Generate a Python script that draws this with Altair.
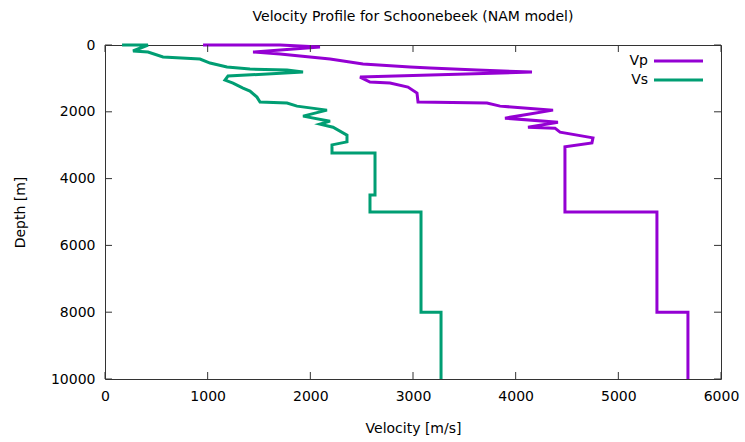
import altair as alt
import pandas as pd

# ---- data ----
series_names = ["Vp", "Vs"]
series_colors = ["#9400D3", "#009E73"]

vp_velocity = [955, 1705, 2094, 1442, 1705, 1899, 2192, 2513, 2971, 3166,
               3623, 4159, 2484, 2581, 2776, 2951, 3039, 3049, 3721, 3848,
               4364, 3896, 4412, 4120, 4383, 4432, 4753, 4743, 4480, 4480,
               5376, 5376, 5678, 5678]
vp_depth = [0, 0, 60, 210, 270, 330, 420, 570, 660, 690,
            750, 810, 960, 1110, 1140, 1260, 1440, 1710, 1740, 1830,
            1950, 2190, 2310, 2460, 2490, 2610, 2780, 2930, 3050, 5000,
            5000, 8000, 8000, 10000]

vs_velocity = [166, 419, 273, 419, 565, 925, 1023, 1188, 1412, 1773,
               1929, 1198, 1169, 1247, 1344, 1412, 1480, 1510, 1773, 1870,
               2162, 1929, 2192, 2094, 2221, 2357, 2357, 2211, 2211, 2630,
               2630, 2581, 2581, 3078, 3078, 3273, 3273]
vs_depth = [0, 0, 180, 210, 360, 420, 540, 660, 720, 750,
            810, 930, 1050, 1140, 1290, 1380, 1560, 1710, 1740, 1830,
            1950, 2130, 2280, 2370, 2460, 2700, 2900, 2990, 3230, 3230,
            4490, 4490, 5000, 5000, 8000, 8000, 10000]

x_tick_values = [0, 1000, 2000, 3000, 4000, 5000, 6000]
y_tick_values = [0, 2000, 4000, 6000, 8000, 10000]

title_text = "Velocity Profile for Schoonebeek (NAM model)"
x_title = "Velocity [m/s]"
y_title = "Depth [m]"

# ---- build tables ----
rows = []
for name, vel, dep in [("Vp", vp_velocity, vp_depth), ("Vs", vs_velocity, vs_depth)]:
    for i, (v, d) in enumerate(zip(vel, dep)):
        rows.append({"series": name, "velocity": v, "depth": d, "idx": i})
df = pd.DataFrame(rows)
xt = pd.DataFrame({"velocity": x_tick_values})
yt = pd.DataFrame({"depth": y_tick_values})

W, H = 616, 334
FONT = "DejaVu Sans"
BORDER = "#333333"
TICK = 7

x_enc = alt.X("velocity:Q",
              scale=alt.Scale(domain=[0, 6000], nice=False, zero=False),
              axis=alt.Axis(values=x_tick_values, title=x_title, format="d",
                            grid=False, ticks=False, domain=False,
                            labelFont=FONT, labelFontSize=14, labelColor="black",
                            labelPadding=10, labelFlush=False, labelOverlap=False,
                            titleFont=FONT, titleFontSize=14, titleFontWeight="normal",
                            titleColor="black",
                            titleX=W / 2, titleY=49, titleBaseline="middle",
                            titleAlign="center"))
y_enc = alt.Y("depth:Q",
              scale=alt.Scale(domain=[0, 10000], reverse=True, nice=False, zero=False),
              axis=alt.Axis(values=y_tick_values, title=y_title, format="d",
                            grid=False, ticks=False, domain=False,
                            labelFont=FONT, labelFontSize=14, labelColor="black",
                            labelPadding=10, labelFlush=False, labelOverlap=False,
                            titleFont=FONT, titleFontSize=14, titleFontWeight="normal",
                            titleColor="black",
                            titleX=-85, titleY=H / 2, titleBaseline="middle",
                            titleAlign="center", titleAngle=-90))

lines = alt.Chart(df).mark_line(strokeWidth=3, strokeJoin="miter", strokeCap="butt").encode(
    x=x_enc,
    y=y_enc,
    color=alt.Color("series:N", scale=alt.Scale(domain=series_names, range=series_colors),
                    legend=None),
    order="idx:Q",
    detail="series:N",
)

tick_bottom = alt.Chart(xt).mark_rule(color=BORDER, strokeWidth=1).encode(
    x=x_enc, y=alt.value(H), y2=alt.value(H - TICK))
tick_top = alt.Chart(xt).mark_rule(color=BORDER, strokeWidth=1).encode(
    x=x_enc, y=alt.value(0), y2=alt.value(TICK))
tick_left = alt.Chart(yt).mark_rule(color=BORDER, strokeWidth=1).encode(
    y=y_enc, x=alt.value(0), x2=alt.value(TICK))
tick_right = alt.Chart(yt).mark_rule(color=BORDER, strokeWidth=1).encode(
    y=y_enc, x=alt.value(W), x2=alt.value(W - TICK))

legend_layers = []
for k, (name, col) in enumerate(zip(series_names, series_colors)):
    ypos = 16 + 19 * k
    ldf = pd.DataFrame({"series": [name]})
    legend_layers.append(
        alt.Chart(ldf).mark_text(align="right", baseline="middle", font=FONT,
                                 fontSize=14, color="black").encode(
            text="series:N", x=alt.value(543), y=alt.value(ypos)))
    legend_layers.append(
        alt.Chart(ldf).mark_rule(color=col, strokeWidth=3).encode(
            x=alt.value(549), x2=alt.value(598), y=alt.value(ypos)))

chart = alt.layer(lines, tick_bottom, tick_top, tick_left, tick_right, *legend_layers).properties(
    width=W,
    height=H,
    background="white",
    title=alt.TitleParams(title_text, font=FONT, fontSize=14, fontWeight="normal",
                          color="black", anchor="middle", offset=14),
    autosize=alt.AutoSizeParams(type="none"),
    padding={"left": 105, "top": 45, "right": 24, "bottom": 63},
).configure_view(
    stroke=BORDER, strokeWidth=1
)

chart.save("out.html", embed_options={"renderer": "svg", "actions": False})
